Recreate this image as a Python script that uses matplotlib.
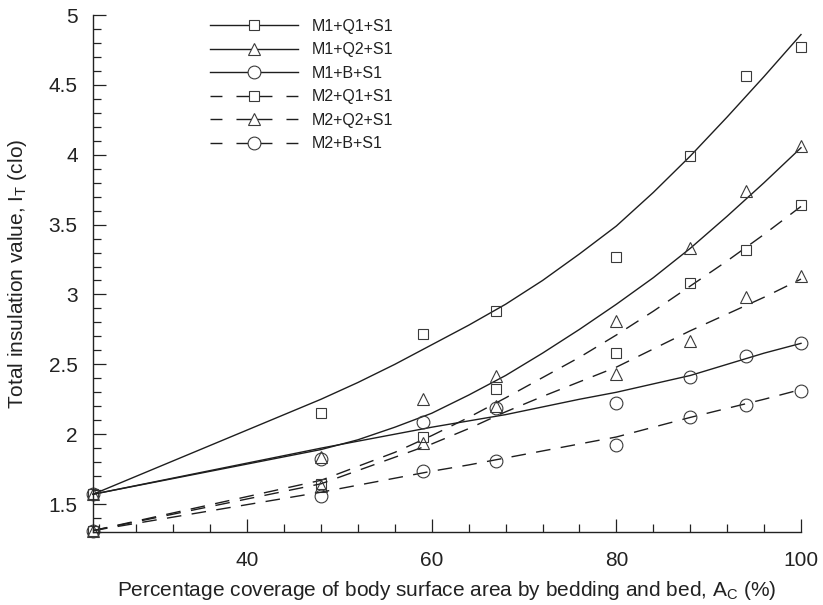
import matplotlib
matplotlib.use("Agg")
import matplotlib.pyplot as plt
from matplotlib.lines import Line2D
from matplotlib.ticker import MultipleLocator

plt.rcParams['font.family'] = ['Liberation Sans', 'DejaVu Sans']
plt.rcParams['mathtext.fontset'] = 'custom'
plt.rcParams['mathtext.rm'] = 'Liberation Sans'
plt.rcParams['mathtext.it'] = 'Liberation Sans:italic'

# ---- data ----
coverage = [23.3, 48, 59, 67, 80, 88, 94, 100]

labels = ["M1+Q1+S1", "M1+Q2+S1", "M1+B+S1", "M2+Q1+S1", "M2+Q2+S1", "M2+B+S1"]

# measured points
m1_q1 = [1.57, 2.15, 2.72, 2.88, 3.27, 3.99, 4.56, 4.77]
m1_q2 = [1.57, 1.84, 2.25, 2.42, 2.81, 3.33, 3.74, 4.06]
m1_b = [1.57, 1.82, 2.09, 2.19, 2.22, 2.41, 2.56, 2.65]
m2_q1 = [1.31, 1.64, 1.98, 2.32, 2.58, 3.08, 3.32, 3.64]
m2_q2 = [1.31, 1.63, 1.94, 2.20, 2.43, 2.67, 2.98, 3.13]
m2_b = [1.31, 1.56, 1.74, 1.81, 1.92, 2.12, 2.21, 2.31]

# fitted curves, values
curve_x = [23.3, 48, 52, 56, 60, 64, 68, 72, 76, 80, 84, 88, 92, 96, 100]
fit_m1_q1 = [1.57, 2.25, 2.37, 2.50, 2.64, 2.78, 2.93, 3.10, 3.29, 3.49, 3.73, 3.99, 4.27, 4.56, 4.86]
fit_m1_q2 = [1.57, 1.89, 1.96, 2.05, 2.15, 2.28, 2.42, 2.58, 2.75, 2.93, 3.12, 3.33, 3.56, 3.80, 4.05]
fit_m1_b = [1.57, 1.90, 1.95, 2.00, 2.05, 2.095, 2.14, 2.195, 2.25, 2.30, 2.36, 2.42, 2.50, 2.58, 2.65]
fit_m2_q1 = [1.31, 1.67, 1.77, 1.87, 1.99, 2.12, 2.26, 2.405, 2.55, 2.71, 2.88, 3.06, 3.24, 3.43, 3.63]
fit_m2_q2 = [1.31, 1.645, 1.74, 1.835, 1.93, 2.04, 2.16, 2.27, 2.375, 2.48, 2.61, 2.74, 2.86, 2.98, 3.11]
fit_m2_b = [1.31, 1.585, 1.635, 1.685, 1.735, 1.78, 1.83, 1.88, 1.93, 1.98, 2.05, 2.12, 2.185, 2.25, 2.32]

points = [m1_q1, m1_q2, m1_b, m2_q1, m2_q2, m2_b]
fits = [fit_m1_q1, fit_m1_q2, fit_m1_b, fit_m2_q1, fit_m2_q2, fit_m2_b]
markers = ['s', '^', 'o', 's', '^', 'o']
msizes = {'s': 6.6, '^': 8.5, 'o': 9.2}
dashes = (10.5, 7.5)
line_col = '#1e1e1e'
mk_col = '#3a3a3a'
txt_col = '#222222'

fig = plt.figure(figsize=(8.23, 6.05), dpi=100)
ax = fig.add_axes([93 / 823, 1 - 532 / 605, (801 - 93) / 823, (532 - 15) / 605])

for i in range(6):
    ls = '-' if i < 3 else '--'
    ln, = ax.plot(curve_x, fits[i], color=line_col, lw=1.0, ls=ls, clip_on=False)
    if i >= 3:
        ln.set_dashes(dashes)
    ax.plot(coverage, points[i], ls='none', marker=markers[i], ms=msizes[markers[i]],
            mfc='none', mec=mk_col, mew=0.8, clip_on=False)

handles = []
for i in range(6):
    ls = '-' if i < 3 else '--'
    h = Line2D([], [], color=line_col, lw=1.0, ls=ls, marker=markers[i],
               ms=msizes[markers[i]], mfc='white', mec=mk_col, mew=0.8)
    if i >= 3:
        h.set_dashes((8.6, 10.1, 25.9, 10.1, 8.6, 30))
    handles.append(h)

leg = fig.legend(handles, labels, loc='upper left', frameon=False,
                 bbox_to_anchor=(210 / 823, 1 - 19 / 605), bbox_transform=fig.transFigure,
                 borderpad=0, borderaxespad=0, handlelength=5.5, handletextpad=0.85,
                 labelspacing=0.53, fontsize=11.5, markerscale=1.0)
for t in leg.get_texts():
    t.set_color(txt_col)

ax.set_xlim(23.3, 100)
ax.set_ylim(1.3, 5)
ax.xaxis.set_major_locator(MultipleLocator(20))
ax.xaxis.set_minor_locator(MultipleLocator(4))
ax.yaxis.set_major_locator(MultipleLocator(0.5))
ax.yaxis.set_minor_locator(MultipleLocator(0.1))
ax.set_xticks([40, 60, 80, 100])
ax.set_yticks([1.5, 2, 2.5, 3, 3.5, 4, 4.5, 5])
ax.set_yticklabels(['1.5', '2', '2.5', '3', '3.5', '4', '4.5', '5'])

for s in ['top', 'right']:
    ax.spines[s].set_visible(False)
for s in ['left', 'bottom']:
    ax.spines[s].set_linewidth(1.0)
    ax.spines[s].set_color('#222222')

ax.tick_params(which='major', direction='in', length=9.5, width=0.9, colors='#222222',
               labelsize=15, labelcolor=txt_col)
ax.tick_params(axis='y', which='major', pad=11)
ax.tick_params(axis='x', which='major', pad=14)
ax.tick_params(which='minor', direction='in', length=5.8, width=0.9, colors='#222222')

ax.set_xlabel(r'Percentage coverage of body surface area by bedding and bed, A$_\mathrm{C}$ (%)',
              fontsize=15, color=txt_col, labelpad=6)
ax.set_ylabel(r'Total insulation value, I$_\mathrm{T}$ (clo)', fontsize=15, color=txt_col)
ax.yaxis.set_label_coords((29 - 93) / 708, 0.5)

fig.savefig('out.png', dpi=100)
